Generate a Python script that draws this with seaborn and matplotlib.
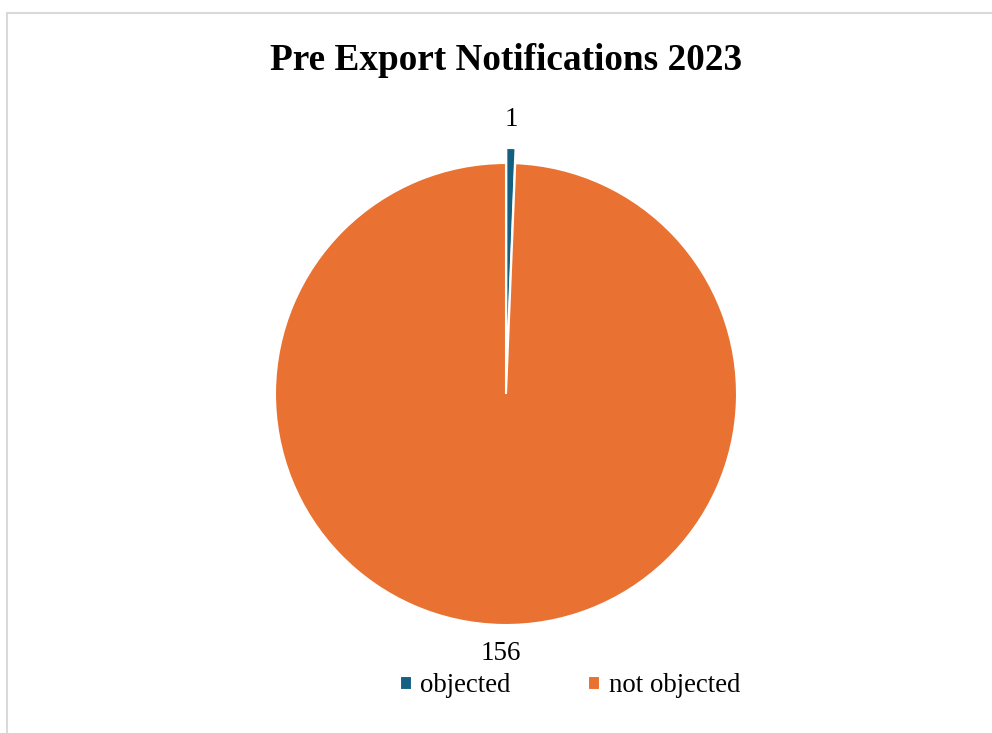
import matplotlib
matplotlib.use("Agg")
import matplotlib.pyplot as plt
import seaborn as sns
import numpy as np
from matplotlib.patches import Rectangle

# Data
categories = ["objected", "not objected"]
values = [1, 156]
colors = ["#156082", "#E97132"]
title = "Pre Export Notifications 2023"

sns.set_theme(style="white")
plt.rcParams["font.family"] = ["Liberation Serif", "DejaVu Serif"]
plt.rcParams["text.color"] = "black"

W, H = 992, 733
fig = plt.figure(figsize=(W / 100, H / 100), dpi=100)

# light gray chart border (left and top visible)
fig.patches.append(Rectangle((7 / W, -0.1), 1.2, (H - 13) / H + 0.1,
                             transform=fig.transFigure, fill=False,
                             edgecolor="#D9D9D9", linewidth=1.5))

# pie axes positioned in pixels
cx, cy, r = 506, H - 394, 231
lim = 1.3
ax = fig.add_axes([(cx - r * lim) / W, (cy - r * lim) / H,
                   2 * r * lim / W, 2 * r * lim / H])
wedges, texts = ax.pie(values, colors=colors, startangle=90, counterclock=False,
                       explode=[0.065, 0], labels=[str(v) for v in values],
                       labeldistance=1.125,
                       wedgeprops=dict(edgecolor="white", linewidth=1.5),
                       textprops=dict(fontsize=19.5, color="black"))
for t in texts:
    t.set_ha("center")
ax.set_xlim(-lim, lim)
ax.set_ylim(-lim, lim)
ax.set_aspect("equal")
ax.axis("off")

fig.text(cx / W, 1 - 60 / H, title, ha="center", va="center",
         fontsize=26.8, fontweight="bold", color="black")

leg = fig.legend(wedges, categories, loc="center", bbox_to_anchor=(570 / W, 1 - 686 / H),
                 ncol=2, frameon=False, fontsize=19.3, handlelength=0.45, handleheight=0.45,
                 handletextpad=0.32, columnspacing=2.9, borderpad=0)
for t in leg.get_texts():
    t.set_color("black")

fig.savefig("out.png", dpi=100)
